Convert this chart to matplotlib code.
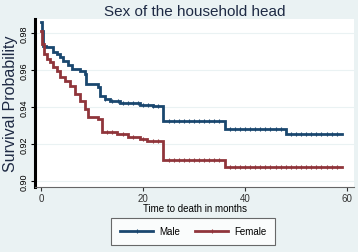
import numpy as np
import matplotlib.pyplot as plt
from matplotlib.lines import Line2D

# Kaplan-Meier step values
male_t = [0, 0.1, 0.3, 1.0, 2.3, 3.1, 3.7, 4.3, 5.3, 6.1, 7.6, 8.6, 8.8, 11.2,
          11.6, 12.5, 13.5, 15.5, 19.4, 22.0, 24.0, 36.0, 48.0, 59.0]
male_s = [0.986, 0.981, 0.973, 0.9724, 0.970, 0.9686, 0.967, 0.965, 0.963, 0.9605,
          0.9595, 0.958, 0.9524, 0.951, 0.946, 0.9443, 0.9432, 0.942, 0.941, 0.9405,
          0.9324, 0.928, 0.9254, 0.9254]

female_t = [0, 0.2, 0.5, 1.2, 1.8, 2.4, 3.1, 3.7, 4.7, 5.7, 6.7, 7.6, 8.6, 9.2,
            11.2, 12.0, 14.9, 17.0, 19.4, 20.8, 24.0, 36.0, 59.0]
female_s = [0.981, 0.974, 0.9686, 0.966, 0.9643, 0.9616, 0.9595, 0.956, 0.954, 0.9514,
            0.947, 0.9432, 0.939, 0.9346, 0.9335, 0.9265, 0.9254, 0.9238, 0.9227,
            0.9216, 0.9114, 0.9076, 0.9076]

# censored observation ticks
male_cens = [12.5, 14, 15, 16, 17, 18, 19, 20, 21, 22, 23, 25, 26, 27, 28, 29, 30,
             31, 32, 33, 34, 35, 37, 38, 39, 40, 41, 42, 43, 44, 45, 46, 47, 49, 50,
             51, 52, 53, 54, 55, 56, 57, 58]
female_cens = [13, 14, 16, 18, 20, 22, 23, 25, 26, 27, 28, 29, 30, 31, 32, 33, 34,
               35, 37, 38, 39, 40, 41, 42, 43, 44, 45, 46, 47, 48, 49, 50, 51, 52, 53,
               54, 55, 56, 57, 58]

yticks = [0.90, 0.92, 0.94, 0.96, 0.98]
xticks = [0, 20, 40, 60]

navy = '#1a476f'
maroon = '#90353b'
bg = '#eaf2f3'
txt = '#1e2a44'

plt.rcParams['font.family'] = ['Liberation Sans', 'DejaVu Sans']

fig = plt.figure(figsize=(3.58, 2.53), dpi=100, facecolor=bg)
ax = fig.add_axes([0.098, 0.257, 0.891, 0.664])
ax.set_facecolor('white')


def step_value(ts, ss, t):
    idx = np.searchsorted(ts, t, side='right') - 1
    return ss[idx]


for ts, ss, cens, col in [(male_t, male_s, male_cens, navy),
                          (female_t, female_s, female_cens, maroon)]:
    ax.step(ts, ss, where='post', color=col, lw=2.0, solid_joinstyle='miter')
    cy = [step_value(ts, ss, c) for c in cens]
    ax.plot(cens, cy, ls='none', marker='|', ms=3.5, mew=0.8, color=col)

ax.set_xlim(-1.18, 61.4)
ax.set_ylim(0.8968, 0.9876)
ax.set_yticks(yticks)
ax.set_yticklabels(['0.90', '0.92', '0.94', '0.96', '0.98'], rotation=90,
                   va='center', fontsize=6.5)
ax.set_xticks(xticks)
ax.set_xticklabels([str(v) for v in xticks], fontsize=7)
ax.grid(axis='y', color=bg, lw=0.8)
ax.set_axisbelow(True)

for side in ['top', 'right']:
    ax.spines[side].set_visible(False)
ax.spines['left'].set_linewidth(2.2)
ax.spines['left'].set_color('black')
ax.spines['bottom'].set_color('#666666')
ax.spines['bottom'].set_linewidth(0.8)
ax.tick_params(axis='y', length=3, width=0.8, pad=1.5)
ax.tick_params(axis='x', length=3, width=0.8, pad=1.5, colors='#333333')

ax.set_title('Sex of the household head', fontsize=11, color=txt, pad=3)
ax.set_ylabel('Survival Probability', fontsize=11.5, color=txt, labelpad=1)
ax.set_xlabel('Time to death in months', fontsize=7, labelpad=0)

handles = [Line2D([], [], color=navy, lw=2, marker='|', ms=3, mew=0.8),
           Line2D([], [], color=maroon, lw=2, marker='|', ms=3, mew=0.8)]
leg = fig.legend(handles, ['Male', 'Female'], loc='center',
                 bbox_to_anchor=(0.54, 0.082), ncol=2, fontsize=7,
                 frameon=True, fancybox=False, handlelength=3.4,
                 columnspacing=1.6, borderpad=0.9, handletextpad=0.6)
leg.get_frame().set_edgecolor('#444444')
leg.get_frame().set_linewidth(0.8)

fig.savefig('out.png', dpi=100, facecolor=bg)
